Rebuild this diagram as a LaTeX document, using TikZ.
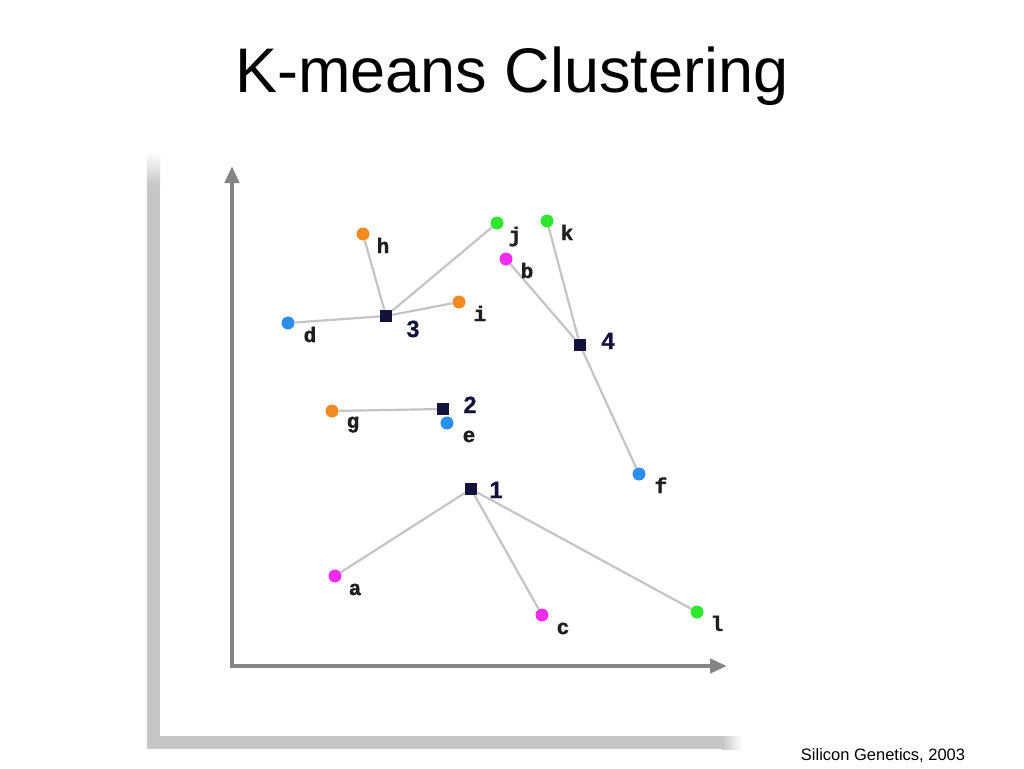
\documentclass[tikz,border=0pt]{standalone}
\usepackage{fontspec}
\setmainfont{Liberation Sans}
\newfontfamily\monofont[BoldFeatures={FakeBold=1.6}]{Liberation Mono}
\newfontfamily\numfont[BoldFeatures={FakeBold=0.8}]{Liberation Sans}
\usetikzlibrary{arrows.meta}
\definecolor{cOrange}{HTML}{F28A22}
\definecolor{cBlue}{HTML}{2A8EEA}
\definecolor{cGreen}{HTML}{2EE62E}
\definecolor{cMagenta}{HTML}{F02EF0}
\definecolor{cNavy}{HTML}{12123A}
\definecolor{cLine}{HTML}{C4C4C4}
\definecolor{cAxis}{HTML}{848484}
\definecolor{cShadow}{HTML}{C6C6C6}
\tikzset{
  dot/.style={circle,inner sep=0pt,minimum size=13pt,fill=#1},
  ctr/.style={rectangle,inner sep=0pt,minimum size=12pt,fill=cNavy},
  lbl/.style={anchor=base,inner sep=0pt,font=\monofont\bfseries\fontsize{21}{21}\selectfont,text=black!88},
  num/.style={anchor=base,inner sep=0pt,font=\numfont\bfseries\fontsize{23.5}{23.5}\selectfont,text=cNavy},
  link/.style={draw=cLine,line width=2.2pt},
  axis/.style={draw=cAxis,line width=4.4pt,-{Triangle[length=17pt,width=14pt]}}
}
\begin{document}
\begin{tikzpicture}[x=1pt,y=-1pt]
\useasboundingbox (0,0) rectangle (1024,768);
\fill[white] (0,0) rectangle (1024,768);
% shadow frame
\shade[top color=white,bottom color=cShadow] (147,152) rectangle (160,185);
\fill[cShadow] (147,185) rectangle (160,749);
\fill[cShadow] (160,736) rectangle (722,749);
\shade[left color=cShadow,right color=white] (722,736) rectangle (742,749);
% title and footer
\node[anchor=base,inner sep=0pt,font=\fontsize{63}{63}\selectfont] (title) at (512,92) {K-means Clustering};
\node[anchor=base,inner sep=0pt,font=\fontsize{16.5}{16.5}\selectfont] (foot) at (883,760) {Silicon Genetics, 2003};
% axes
\coordinate (O) at (232,666);
\coordinate (Ytip) at (232,166);
\coordinate (Xtip) at (727,666);
\draw[axis] (232,668) -- (Ytip);
\draw[axis] (230,666) -- (Xtip);
% points
\node[dot=cOrange] (h) at (363,234) {};
\node[dot=cGreen] (j) at (497,223) {};
\node[dot=cGreen] (k) at (547,221) {};
\node[dot=cMagenta] (b) at (506,259) {};
\node[dot=cOrange] (i) at (459,302) {};
\node[dot=cBlue] (d) at (288,323) {};
\node[dot=cOrange] (g) at (332,411) {};
\node[dot=cBlue] (e) at (447,423) {};
\node[dot=cBlue] (f) at (639,474) {};
\node[dot=cMagenta] (a) at (335,576) {};
\node[dot=cMagenta] (c) at (542,615) {};
\node[dot=cGreen] (l) at (697,612) {};
% centres
\node[ctr] (c3) at (386,316) {};
\node[ctr] (c4) at (580,345) {};
\node[ctr] (c2) at (443,409) {};
\node[ctr] (c1) at (471,489) {};
% links
\draw[link] (c3) -- (h);
\draw[link] (c3) -- (j);
\draw[link] (c3) -- (i);
\draw[link] (c3) -- (d);
\draw[link] (c4) -- (b);
\draw[link] (c4) -- (k);
\draw[link] (c4) -- (f);
\draw[link] (c2) -- (g);
\draw[link] (c1) -- (a);
\draw[link] (c1) -- (c);
\draw[link] (c1) -- (l);
% point labels
\node[lbl] (lh) at (383,253) {h};
\node[lbl] (lj) at (515,242) {j};
\node[lbl] (lk) at (567,240) {k};
\node[lbl] (lb) at (527,278) {b};
\node[lbl] (li) at (480,321) {i};
\node[lbl] (ld) at (310,342) {d};
\node[lbl] (lg) at (353,428) {g};
\node[lbl] (le) at (469,442) {e};
\node[lbl] (lf) at (661,493) {f};
\node[lbl] (la) at (355,595) {a};
\node[lbl] (lc) at (563,634) {c};
\node[lbl] (ll) at (717,631) {l};
% centre labels
\node[num] (n3) at (413,337) {3};
\node[num] (n4) at (608,349) {4};
\node[num] (n2) at (470,413) {2};
\node[num] (n1) at (496,498) {1};
\end{tikzpicture}
\end{document}
